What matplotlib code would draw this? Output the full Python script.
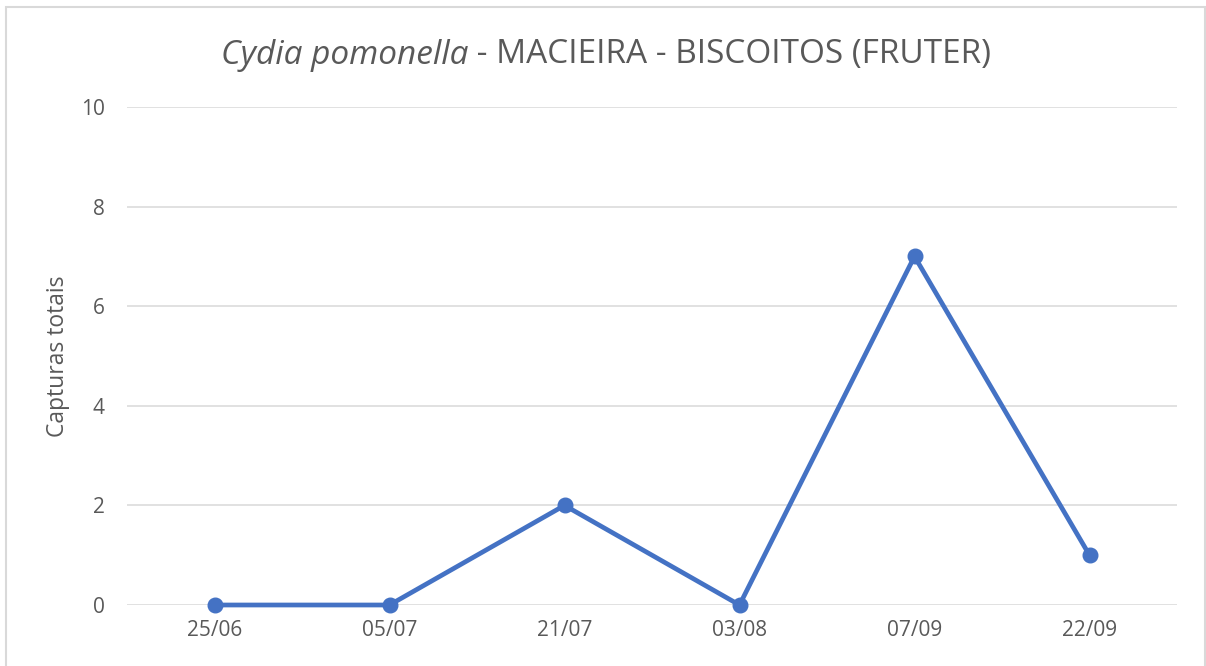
import matplotlib
matplotlib.use("Agg")
import matplotlib.pyplot as plt
from matplotlib.patches import Rectangle

dates = ["25/06", "05/07", "21/07", "03/08", "07/09", "22/09"]
captures = [0, 0, 2, 0, 7, 1]
y_ticks = [0, 2, 4, 6, 8, 10]

LINE_COLOR = "#4472C4"
TEXT_COLOR = "#595959"
GRID_COLOR = "#D9D9D9"
FONT = ["Open Sans", "DejaVu Sans"]

plt.rcParams["font.family"] = FONT

W, H = 1206, 666
fig = plt.figure(figsize=(W / 100, H / 100), dpi=100)
ax = fig.add_axes([127 / W, (H - 605) / H, 1050 / W, 498 / H])

x = range(len(dates))
ax.plot(x, captures, "o-", color=LINE_COLOR, linewidth=3.4, markersize=10.5,
        solid_capstyle="round", zorder=3, clip_on=False)

ax.set_xlim(-0.5, len(dates) - 0.5)
ax.set_ylim(0, 10)
ax.set_yticks(y_ticks)
ax.set_xticks(list(x))
ax.set_xticklabels(dates)
ax.tick_params(axis="both", length=0, labelsize=15, labelcolor=TEXT_COLOR)
ax.tick_params(axis="y", pad=16)
ax.tick_params(axis="x", pad=11)
for s in ax.spines.values():
    s.set_visible(False)
ax.grid(True, axis="y", color=GRID_COLOR, linewidth=1.1)
ax.set_axisbelow(True)
ax.set_ylabel("Capturas totais", fontsize=16.5, color=TEXT_COLOR, labelpad=8)

# chart border
fig.patches.append(Rectangle((6 / W, -0.01), (1205 - 6) / W, (H - 7) / H + 0.01,
                             transform=fig.transFigure, fill=False,
                             edgecolor="#D9D9D9", linewidth=1.5))

# title: italic species name + regular rest
ty = 1 - 55 / H
t1 = fig.text(0, ty, "Cydia pomonella", fontsize=24, style="italic",
              color=TEXT_COLOR, va="center", ha="left")
t2 = fig.text(0, ty, " - MACIEIRA - BISCOITOS (FRUTER)", fontsize=24,
              color=TEXT_COLOR, va="center", ha="left")
fig.canvas.draw()
r = fig.canvas.get_renderer()
w1 = t1.get_window_extent(r).width / W
w2 = t2.get_window_extent(r).width / W
x0 = 606 / W - (w1 + w2) / 2
t1.set_x(x0)
t2.set_x(x0 + w1)

fig.savefig("out.png", dpi=100)
